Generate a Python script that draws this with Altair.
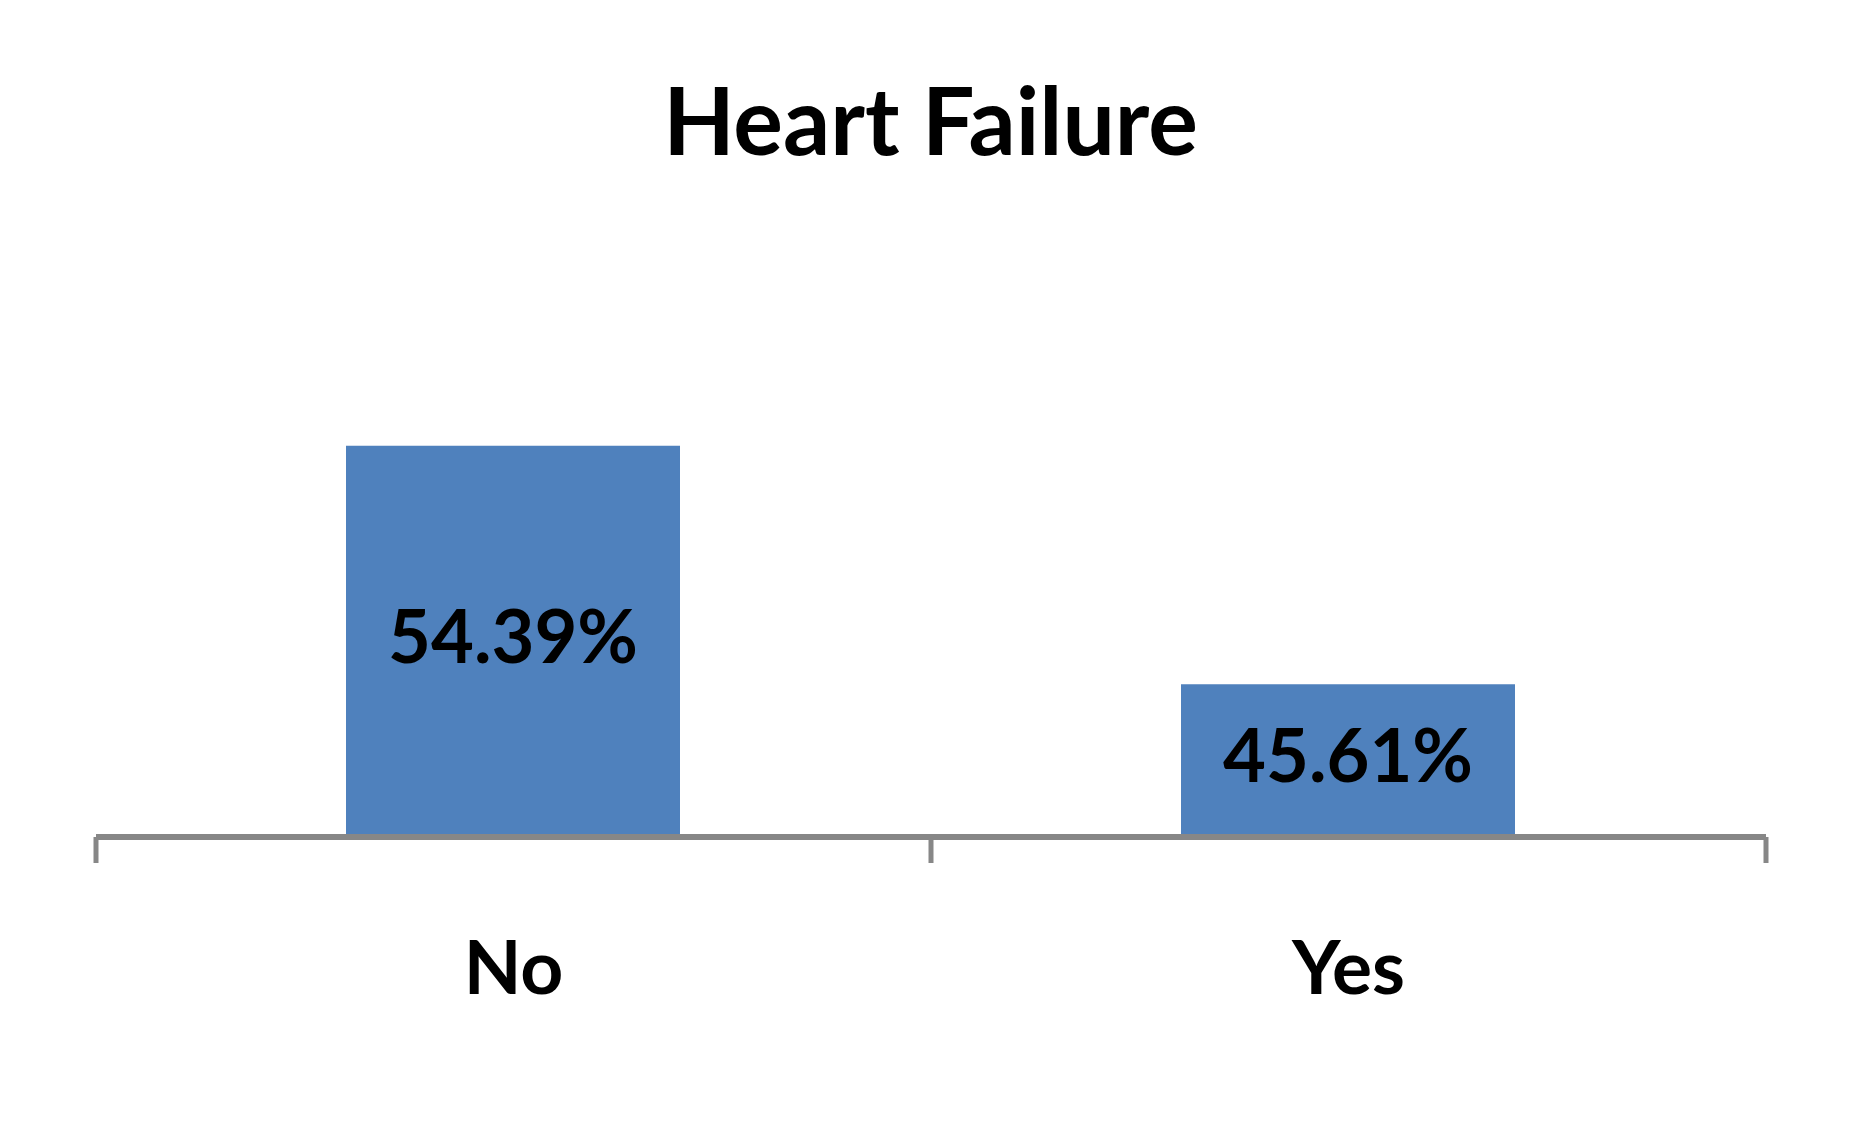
import altair as alt
import pandas as pd

categories = ["No", "Yes"]
values = [54.39, 45.61]
labels = ["54.39%", "45.61%"]

df = pd.DataFrame({"cat": categories, "val": values, "lab": labels})

FONT = "Lato"
BAR = "#4F81BD"
AX = "#878787"

x = alt.X(
    "cat:N",
    sort=categories,
    scale=alt.Scale(paddingInner=0, paddingOuter=0),
    axis=alt.Axis(
        title=None,
        labelAngle=0,
        labelFont=FONT,
        labelFontWeight="bold",
        labelFontSize=75,
        labelColor="black",
        labelBaseline="alphabetic",
        labelPadding=131,
        domainColor=AX,
        domainWidth=6,
        tickColor=AX,
        tickWidth=5,
        tickSize=26,
        tickBand="extent",
        zindex=1,
    ),
)
y_scale = alt.Scale(domain=[40, 60], zero=False, nice=False)

base = alt.Chart(df)

bars = base.mark_bar(color=BAR, clip=True, width=alt.RelativeBandSize(0.4)).encode(
    x=x,
    y=alt.Y("val:Q", scale=y_scale, axis=None),
    y2=alt.datum(40),
)

text = base.transform_calculate(mid="(40 + datum.val) / 2").mark_text(
    font=FONT, fontWeight="bold", fontSize=74, color="black", baseline="middle", align="center"
).encode(
    x=x,
    y=alt.Y("mid:Q", scale=y_scale, axis=None),
    text="lab:N",
)

chart = (
    alt.layer(bars, text)
    .properties(
        width=1670,
        height=543,
        background="white",
        view=alt.ViewBackground(strokeWidth=0, stroke="transparent"),
        autosize=alt.AutoSizeParams(type="none"),
        padding={"left": 87.5, "top": 285.5, "right": 98.5, "bottom": 277},
        title=alt.TitleParams(
            "Heart Failure",
            font=FONT,
            fontWeight="bold",
            fontSize=93,
            color="black",
            anchor="middle",
            baseline="alphabetic",
            offset=46,
        ),
    )
    .configure_view(strokeWidth=0, stroke="transparent")
)

chart.save("out.html", embed_options={"renderer": "svg", "actions": False})
